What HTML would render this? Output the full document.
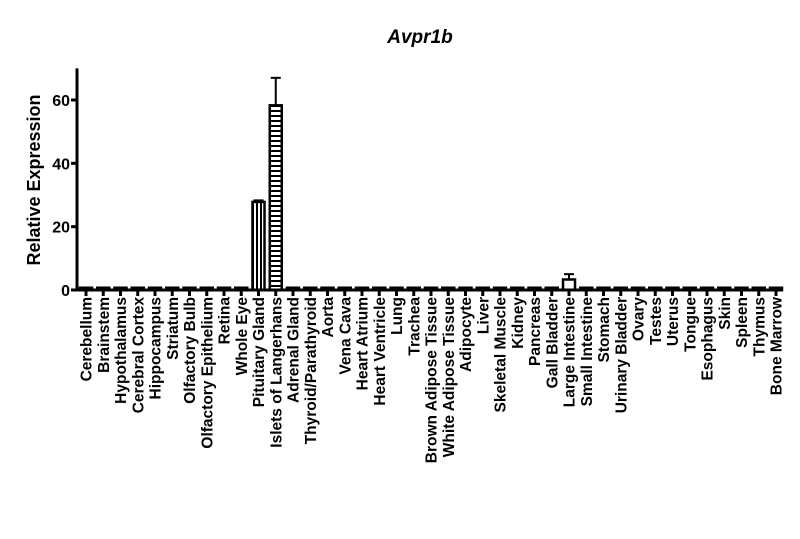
<!DOCTYPE html>
<html><head><meta charset="utf-8"><style>
body{margin:0;background:#fff}
svg text{font-family:"Liberation Sans",Arial,sans-serif;font-weight:bold;fill:#000}
</style></head><body>
<svg id="chart" width="800" height="534" viewBox="0 0 800 534" xmlns="http://www.w3.org/2000/svg">
<defs>
<pattern id="vstripe" width="4" height="4" patternUnits="userSpaceOnUse"><rect width="4" height="4" fill="#fff"/><rect x="0" width="2" height="4" fill="#000"/></pattern>
<pattern id="hstripe" width="4" height="5" patternUnits="userSpaceOnUse"><rect width="4" height="5" fill="#fff"/><rect y="0" width="4" height="2" fill="#000"/></pattern>
</defs>
<text x="420" y="43" text-anchor="middle" font-size="19" font-style="italic">Avpr1b</text>
<text transform="translate(40,180) rotate(-90)" text-anchor="middle" font-size="18">Relative Expression</text>
<g id="plot"></g>
</svg>
<script>
const categories=["Cerebellum","Brainstem","Hypothalamus","Cerebral Cortex","Hippocampus","Striatum","Olfactory Bulb","Olfactory Epithelium","Retina","Whole Eye","Pituitary Gland","Islets of Langerhans","Adrenal Gland","Thyroid/Parathyroid","Aorta","Vena Cava","Heart Atrium","Heart Ventricle","Lung","Trachea","Brown Adipose Tissue","White Adipose Tissue","Adipocyte","Liver","Skeletal Muscle","Kidney","Pancreas","Gall Bladder","Large Intestine","Small Intestine","Stomach","Urinary Bladder","Ovary","Testes","Uterus","Tongue","Esophagus","Skin","Spleen","Thymus","Bone Marrow"];
const values=[0.4,0.4,0.4,0.4,0.4,0.4,0.4,0.4,0.4,0.4,27.5,58,0.4,0.4,0.4,0.4,0.4,0.4,0.4,0.4,0.4,0.4,0.4,0.4,0.4,0.4,0.4,0.4,3,0.4,0.4,0.4,0.4,0.4,0.4,0.4,0.4,0.4,0.4,0.4,0.4];
const errors=[0,0,0,0,0,0,0,0,0,0,0.8,9,0,0,0,0,0,0,0,0,0,0,0,0,0,0,0,0,2,0,0,0,0,0,0,0,0,0,0,0,0];
const yTicks=[0,20,40,60];
const NS="http://www.w3.org/2000/svg";
const g=document.getElementById('plot');
const y0=290,yScale=(290-100)/60;
const y=v=>y0-v*yScale;
const x=i=>86+i*17.25;
const axisL=77,axisR=783;
function mk(t,a){const e=document.createElementNS(NS,t);for(const k in a)e.setAttribute(k,a[k]);g.appendChild(e);return e;}
let e;
e=mk('line',{x1:axisL,y1:y(70),x2:axisL,y2:y0+1,stroke:'#000','stroke-width':3});


yTicks.forEach(t=>{
 e=mk('line',{x1:axisL-6,y1:y(t),x2:axisL,y2:y(t),stroke:'#000','stroke-width':3});
 
 
 e=mk('text',{x:axisL-7,y:y(t)+6,'text-anchor':'end','font-size':16});
 e.textContent=t;
 
 
});
categories.forEach((c,i)=>{
 const cx=x(i),v=values[i],w=12;
 let fill='#000';
 if(v>1){fill=i===10?'url(#vstripe)':(i===11?'url(#hstripe)':'#fff');}
 if(errors[i]>0){
  e=mk('line',{x1:cx,y1:y(v),x2:cx,y2:y(v+errors[i]),stroke:'#000','stroke-width':2});
  
  
  e=mk('line',{x1:cx-5,y1:y(v+errors[i]),x2:cx+5,y2:y(v+errors[i]),stroke:'#000','stroke-width':2});
  
  
 }
 e=mk('rect',{x:cx-w/2,y:y(v)-1,width:w,height:y0-y(v)+1,fill:fill,stroke:'#000','stroke-width':2.5});
 
 
 e=mk('line',{x1:cx,y1:y0,x2:cx,y2:y0+6,stroke:'#000','stroke-width':3});
 
 
 e=mk('text',{transform:`translate(${cx+5.5},${y0+7}) rotate(-90)`,'text-anchor':'end','font-size':15.5});
 e.textContent=c;
 
 
});
e=mk('line',{x1:axisL,y1:y0,x2:axisR,y2:y0,stroke:'#000','stroke-width':3});


</script>
</body></html>
